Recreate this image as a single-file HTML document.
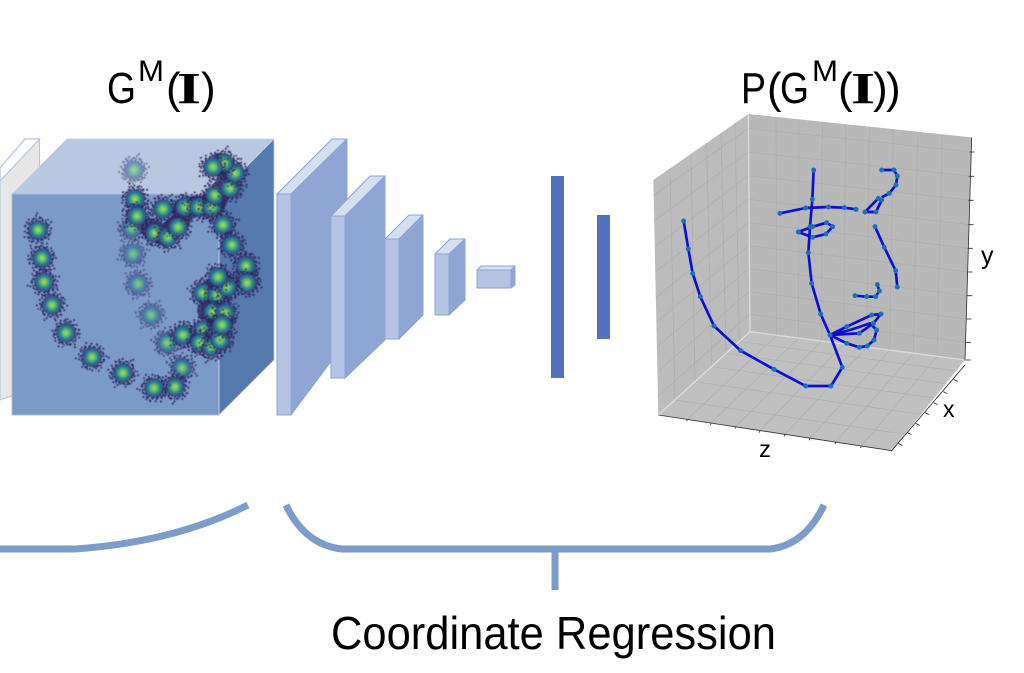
<!DOCTYPE html>
<html><head><meta charset="utf-8"><style>html,body{margin:0;padding:0;background:#fff}svg{display:block}text{font-family:"Liberation Sans",sans-serif;fill:#000}</style></head><body>
<svg width="1024" height="673" viewBox="0 0 1024 673" xmlns="http://www.w3.org/2000/svg">
<defs>
<filter id="b" x="-5%" y="-5%" width="110%" height="110%"><feGaussianBlur stdDeviation="0.55"/></filter>
<radialGradient id="g"><stop offset="0" stop-color="#b5de3a"/><stop offset=".32" stop-color="#62bd70"/><stop offset=".6" stop-color="#25858e"/><stop offset=".82" stop-color="#35598f"/><stop offset="1" stop-color="#33265f" stop-opacity=".55"/></radialGradient>
<path id="d" d="M-13 -3h0M-12 4h0M-11 -8h0M-10 9h0M-9 1h0M-9 -5h0M-8 -11h0M-7 6h0M-6 12h0M-5 -13h0M-4 10h0M-3 -10h0M-1 13h0M0 -12h0M1 11h0M3 -14h0M4 10h0M6 -11h0M7 12h0M8 -8h0M9 8h0M10 -4h0M11 5h0M12 -1h0M13 3h0M-11 -1h0M-10 5h0M10 1h0M-7 -9h0M7 -10h0M-8 9h0M8 9h0M-15 2h0M15 -3h0M-3 16h0M5 -16h0" fill="none" stroke="#2f2560" stroke-width="2" stroke-linecap="round"/>
<g id="c">
<use href="#d"/><use href="#d" transform="rotate(47) scale(.85)"/>
<circle r="10" fill="url(#g)"/>
</g>
</defs>

<!-- gray plate -->
<path d="M0 175L25 139H39.500V387L0 400Z" fill="#e6e6e6" stroke="#b4c4e4"/>
<path d="M0 181L39.500 139H25L0 168Z" fill="#fff" stroke="#b4c4e4" stroke-width="1.200"/>

<!-- big cube -->
<path d="M12 194L67 139H274L219 194Z" fill="#b8c8e0"/>
<path d="M219 194L274 139V360L219 415Z" fill="#5479ad"/>
<rect x="12" y="194" width="207" height="221" fill="#7a9bc8" stroke="#a9bcdc" stroke-width="1"/>
<path d="M12 194L67 139H274V360L219 415M219 194L274 139M219 194V415" fill="none" stroke="#c5d2e6" stroke-width=".8"/>

<!-- clusters -->
<g filter="url(#b)">
<path d="M150 228L165 236L180 222L185 207L215 205L228 178L222 163M205 295L222 282M207 310L218 312L216 338L202 340" fill="none" stroke="#2f2560" stroke-width="20" stroke-linecap="round" stroke-linejoin="round" opacity=".75"/>
<use href="#c" transform="translate(134 170)" opacity=".55"/>
<use href="#c" transform="translate(133 254) rotate(60)" opacity=".6"/>
<use href="#c" transform="translate(138 284) rotate(120)" opacity=".6"/>
<use href="#c" transform="translate(151 315) rotate(200)" opacity=".6"/>
<use href="#c" transform="translate(132 228) rotate(30)" opacity=".7"/>
<use href="#c" transform="translate(167 343) rotate(90)" opacity=".75"/>
<use href="#c" transform="translate(135 199) rotate(150)"/>
<use href="#c" transform="translate(137 216) rotate(210)"/>
<use href="#c" transform="translate(183 335) rotate(40)"/>
<use href="#c" transform="translate(182 368) rotate(100)" opacity=".85"/>
<use href="#c" transform="translate(175 387) rotate(170)"/>
<use href="#c" transform="translate(154 388) rotate(250)"/>
<use href="#c" transform="translate(123 373) rotate(20)"/>
<use href="#c" transform="translate(92 357) rotate(75)"/>
<use href="#c" transform="translate(66 333) rotate(130)"/>
<use href="#c" transform="translate(52 305) rotate(190)"/>
<use href="#c" transform="translate(44 282) rotate(240)"/>
<use href="#c" transform="translate(42 258) rotate(300)"/>
<use href="#c" transform="translate(38 230) rotate(340)"/>
<use href="#c" transform="translate(163 209) rotate(15)"/>
<use href="#c" transform="translate(155 233) rotate(65)"/>
<use href="#c" transform="translate(168 237) rotate(115)"/>
<use href="#c" transform="translate(178 227) rotate(165)"/>
<use href="#c" transform="translate(185 207) rotate(215)"/>
<use href="#c" transform="translate(199 207) rotate(265)"/>
<use href="#c" transform="translate(212 207) rotate(315)"/>
<use href="#c" transform="translate(215 195) rotate(5)"/>
<use href="#c" transform="translate(223 225) rotate(55)"/>
<use href="#c" transform="translate(232 245) rotate(105)"/>
<use href="#c" transform="translate(246 266) rotate(155)"/>
<use href="#c" transform="translate(247 283) rotate(205)"/>
<use href="#c" transform="translate(230 188) rotate(255)"/>
<use href="#c" transform="translate(235 173) rotate(305)"/>
<use href="#c" transform="translate(224 163) rotate(355)"/>
<use href="#c" transform="translate(213 167) rotate(45)"/>
<use href="#c" transform="translate(203 293) rotate(95)"/>
<use href="#c" transform="translate(217 295) rotate(145)"/>
<use href="#c" transform="translate(227 287) rotate(195)"/>
<use href="#c" transform="translate(218 277) rotate(245)"/>
<use href="#c" transform="translate(213 312) rotate(295)"/>
<use href="#c" transform="translate(225 313) rotate(345)"/>
<use href="#c" transform="translate(203 330) rotate(35)"/>
<use href="#c" transform="translate(217 333) rotate(85)"/>
<use href="#c" transform="translate(200 343) rotate(135)"/>
<use href="#c" transform="translate(212 347) rotate(185)"/>
<use href="#c" transform="translate(220 340) rotate(235)"/>
<use href="#c" transform="translate(222 325) rotate(285)"/>
</g>

<!-- conv layers -->
<g stroke="#8aa3d6" stroke-width="1" stroke-linejoin="round">
<path d="M277 194L332 139H347L291 194Z" fill="#d6dff0"/><path d="M291 194L347 139V340L291 415Z" fill="#8fa6d5"/><rect x="277" y="194" width="14" height="221" fill="#b6c4e3"/>
<path d="M331 216L370 176H385L345 216Z" fill="#d6dff0"/><path d="M345 216L385 176V340L345 378Z" fill="#8fa6d5"/><rect x="331" y="216" width="14" height="162" fill="#b6c4e3"/>
<path d="M385 239L409 215H423L399 239Z" fill="#d6dff0"/><path d="M399 239L423 215V315L399 339Z" fill="#8fa6d5"/><rect x="385" y="239" width="14" height="100" fill="#b6c4e3"/>
<path d="M435 254L450 239H465L449 254Z" fill="#d6dff0"/><path d="M449 254L465 239V300L449 315Z" fill="#8fa6d5"/><rect x="435" y="254" width="14" height="61" fill="#b6c4e3"/>
<path d="M477 270L481 266H515L511 270Z" fill="#d6dff0"/><path d="M511 270L515 266V285L511 288Z" fill="#8fa6d5"/><rect x="477" y="270" width="34" height="18" fill="#b6c4e3"/>
</g>
<rect x="551" y="176" width="13" height="202" fill="#5272bd"/>
<rect x="597" y="215" width="13" height="124" fill="#5272bd"/>

<!-- 3D plot -->
<g transform="translate(650 110) scale(.33333)" filter="url(#b)">
<path d="M10 210L295 12L300 665L25 915Z" fill="#bcbcbc"/>
<path d="M295 12L965 82L945 750L300 665Z" fill="#b8b8b8"/>
<path d="M25 915L300 665L945 750L725 1022Z" fill="#c0c0c0"/>
<g stroke="#a9a9a9" stroke-width="2" fill="none" opacity=".8">
<path d="M378 21L380 676M447 28L446 685M517 36L514 694M587 43L581 703M658 50L650 712M730 58L719 721M803 66L790 730M877 73L861 740"/>
<path d="M295 55L965 126M295 126L965 199M295 197L965 271M295 268L960 344M295 338L958 415M295 407L955 486M297 476L953 557M297 545L950 627M298 613L947 697"/>
<path d="M60 175L75 870M123 132L135 815M170 99L185 770M213 69L228 730M255 40L268 694"/>
<path d="M295 55L10 257M295 126L12 333M295 197L14 410M295 268L16 486M295 338L18 562M295 407L20 636M297 476L21 711M297 545L23 785M298 613L24 859"/>
<path d="M380 676L112 928M446 685L183 939M514 694L257 950M581 703L330 962M650 712L405 973M719 721L480 985M790 730L557 996M861 740L634 1008"/>
<path d="M75 870L765 973M135 815L813 913M185 770L853 864M228 730L888 821M268 694L919 783"/>
</g>
<path d="M295 12L300 665L25 915M300 665L945 750" stroke="#dcdcdc" stroke-width="4" fill="none"/>
<path d="M25 915L725 1022L945 765M965 82L945 750H962" stroke="#333" stroke-width="2.500" fill="none"/>
<path d="M112 928l-2 6M183 939l-2 6M257 950l-2 6M330 962l-2 6M405 973l-2 6M480 985l-2 6M557 996l-2 6M634 1008l-2 6M745 1000l12 6M772 968l12 6M797 940l12 6M825 908l12 6M851 878l12 6M880 845l12 6M911 808l12 6M958 126h16M956 199h16M955 271h16M955 344h16M953 415h16M952 486h16M951 557h16M949 627h16M947 697h16" stroke="#333" stroke-width="2.500" fill="none"/>
<g fill="none" stroke="#0a0fd8" stroke-width="8" stroke-linejoin="round">
<path d="M101 333L115 417L128 490L151 560L192 648L272 722L372 778L467 828L543 828L577 772L540 675L512 612L485 520L475 428L480 350L487 268L491 180"/>
<path d="M390 310L467 294L535 291L583 293L618 298"/>
<path d="M445 366L488 350L530 338L548 350L528 372L488 382Z"/>
<path d="M645 306L678 306L695 270L685 265ZM695 262L718 250L738 225L742 198L732 180L695 180"/>
<path d="M675 350L703 412L737 482L742 531"/>
<path d="M615 557L650 560L677 560L688 543L682 524"/>
<path d="M540 675L590 650L665 615L693 612L670 640L628 670ZM540 675L600 660L660 640L680 660L672 690L652 708L628 712L590 700Z"/>
</g>
<path d="M101 333h0M115 417h0M128 490h0M151 560h0M192 648h0M272 722h0M372 778h0M467 828h0M543 828h0M577 772h0M540 675h0M512 612h0M485 520h0M475 428h0M480 350h0M487 268h0M491 180h0M390 310h0M467 294h0M535 291h0M583 293h0M618 298h0M445 366h0M488 350h0M530 338h0M548 350h0M528 372h0M488 382h0M645 306h0M678 306h0M695 270h0M685 265h0M718 250h0M738 225h0M742 198h0M732 180h0M695 180h0M675 350h0M703 412h0M737 482h0M742 531h0M615 557h0M650 560h0M677 560h0M688 543h0M682 524h0M590 650h0M665 615h0M693 612h0M670 640h0M628 670h0M680 660h0M672 690h0M652 708h0M628 712h0M590 700h0" fill="none" stroke="#1f6fb8" stroke-width="15" stroke-linecap="round"/>
</g>
<text x="759" y="457" font-size="23" textLength="12" lengthAdjust="spacingAndGlyphs">z</text>
<text x="943" y="417" font-size="23">x</text>
<text x="981" y="264" font-size="25">y</text>

<!-- titles -->
<g font-size="44">
<text x="107" y="103" textLength="29" lengthAdjust="spacingAndGlyphs">G</text>
<text x="138" y="81" font-size="30" textLength="26" lengthAdjust="spacingAndGlyphs">M</text>
<text x="166" y="103">(</text>
<text x="177" y="103" textLength="24" lengthAdjust="spacingAndGlyphs" style="font-family:'Liberation Serif',serif;font-weight:bold">I</text>
<text x="201" y="103">)</text>
<text x="741" y="103" textLength="25" lengthAdjust="spacingAndGlyphs">P</text>
<text x="767" y="103">(</text>
<text x="780" y="103" textLength="29" lengthAdjust="spacingAndGlyphs">G</text>
<text x="812" y="81" font-size="30" textLength="26" lengthAdjust="spacingAndGlyphs">M</text>
<text x="838" y="103">(</text>
<text x="851" y="103" textLength="24" lengthAdjust="spacingAndGlyphs" style="font-family:'Liberation Serif',serif;font-weight:bold">I</text>
<text x="873" y="103">)</text>
<text x="886" y="103">)</text>
</g>

<!-- brackets -->
<g fill="none" stroke="#7c9cca" stroke-width="7">
<path d="M0 549H75Q175 542 248 505"/>
<path d="M286 505Q305 545 342 549H770Q805 545 824 505"/>
<path d="M555 549V590" stroke-width="7"/>
</g>
<text x="331" y="649" font-size="46" textLength="445" lengthAdjust="spacingAndGlyphs">Coordinate Regression</text>
</svg>
</body></html>
